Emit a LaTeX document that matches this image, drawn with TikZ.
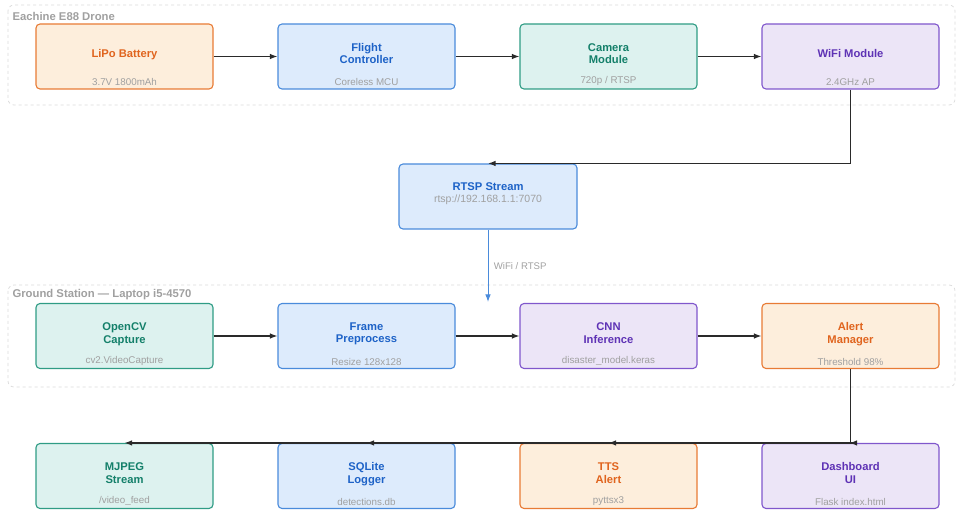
\documentclass[tikz,border=0pt]{standalone}
\usepackage{fontspec}
\setmainfont{Liberation Sans}
\usepackage{tikz}
\usetikzlibrary{
	positioning,
	arrows.meta
}

\definecolor{orline}{HTML}{E87B35}
\definecolor{orfill}{HTML}{FDEEDC}
\definecolor{ortext}{HTML}{E0641E}
\definecolor{blline}{HTML}{4A8BDB}
\definecolor{blfill}{HTML}{DDEBFC}
\definecolor{bltext}{HTML}{1D62C7}
\definecolor{tlline}{HTML}{2F9C85}
\definecolor{tlfill}{HTML}{DDF2EF}
\definecolor{tltext}{HTML}{14806A}
\definecolor{puline}{HTML}{8057CC}
\definecolor{pufill}{HTML}{ECE5F7}
\definecolor{putext}{HTML}{5E32B5}
\definecolor{subgray}{HTML}{A0A0A0}
\definecolor{grpgray}{HTML}{DADADA}
\definecolor{wire}{HTML}{2A2A2A}

\tikzset{
	box/.style={rectangle, rounded corners=4pt, line width=1.1pt,
		minimum width=177pt, minimum height=65pt, align=center,
		font=\fontsize{11.2}{12.2}\selectfont\bfseries, text depth=6pt},
	orbox/.style={box, draw=orline, fill=orfill, text=ortext},
	blbox/.style={box, draw=blline, fill=blfill, text=bltext},
	tlbox/.style={box, draw=tlline, fill=tlfill, text=tltext},
	pubox/.style={box, draw=puline, fill=pufill, text=putext},
	sub/.style={anchor=south, inner sep=1pt, yshift=2.5pt, text=subgray,
		font=\fontsize{9.8}{11}\selectfont},
	grp/.style={draw=grpgray, dashed, rounded corners=6pt, line width=0.7pt},
	grplabel/.style={anchor=west, text=subgray,
		font=\fontsize{11.3}{13}\selectfont\bfseries},
	arr/.style={draw=wire, line width=1.2pt, -{Latex[length=7.5pt,width=5.5pt]}},
	node distance=63.9pt
}

\begin{document}
\begin{tikzpicture}[x=1pt,y=-1pt]
	\useasboundingbox (0,0) rectangle (958,510);

	% groups
	\draw[grp] (8,5) rectangle (955,105);
	\node[grplabel] (dronelbl) at (9,16) {Eachine E88 Drone};
	\draw[grp] (8,285) rectangle (955,387);
	\node[grplabel] (groundlbl) at (9,295) {Ground Station — Laptop i5-4570};

	% drone
	\node[orbox, label={[sub]south:3.7V 1800mAh}] (bat) at (124.5,56.5) {LiPo Battery};
	\node[blbox, right=of bat, label={[sub]south:Coreless MCU}] (fc) {Flight\\Controller};
	\node[tlbox, right=of fc, label={[sub]south:720p / RTSP}] (cam) {Camera\\Module};
	\node[pubox, right=of cam, label={[sub]south:2.4GHz AP}] (wifi) {WiFi Module};

	% stream
	\node[blbox, minimum width=178pt, text depth=8pt] (rtsp) at (488,196.5)
		{RTSP Stream\\[-1pt]{\mdseries\color{subgray}\fontsize{10.5}{12}\selectfont rtsp://192.168.1.1:7070}};
	\coordinate (rtspend) at (488,302);

	% ground station
	\node[tlbox, label={[sub]south:cv2.VideoCapture}] (cap) at (124.5,336) {OpenCV\\Capture};
	\node[blbox, right=of cap, label={[sub]south:Resize 128x128}] (prep) {Frame\\Preprocess};
	\node[pubox, right=of prep, label={[sub]south:disaster\_model.keras}] (cnn) {CNN\\Inference};
	\node[orbox, right=of cnn, label={[sub]south:Threshold 98\%}] (alert) {Alert\\Manager};

	% outputs
	\node[tlbox, label={[sub]south:/video\_feed}] (mjpeg) at (124.5,476) {MJPEG\\Stream};
	\node[blbox, right=of mjpeg, label={[sub]south:detections.db}] (sql) {SQLite\\Logger};
	\node[orbox, right=of sql, label={[sub]south:pyttsx3}] (tts) {TTS\\Alert};
	\node[pubox, right=of tts, label={[sub]south:Flask index.html}] (dash) {Dashboard\\UI};

	% connectors
	\draw[arr] (bat) -- (fc);
	\draw[arr] (fc) -- (cam);
	\draw[arr] (cam) -- (wifi);
	\draw[arr] (wifi.south) |- (rtsp.north);
	\draw[arr, draw=blline, line width=1pt] (rtsp.south) -- node[right, xshift=2pt, text=subgray, font=\fontsize{9.6}{11}\selectfont] {WiFi / RTSP} (rtspend);
	\draw[arr] (cap) -- (prep);
	\draw[arr] (prep) -- (cnn);
	\draw[arr] (cnn) -- (alert);
	\draw[arr] (alert.south) |- ([xshift=-1pt]dash.north);
	\draw[arr] (alert.south) |- (tts.north);
	\draw[arr] (alert.south) |- (sql.north);
	\draw[arr] (alert.south) |- (mjpeg.north);
\end{tikzpicture}
\end{document}
